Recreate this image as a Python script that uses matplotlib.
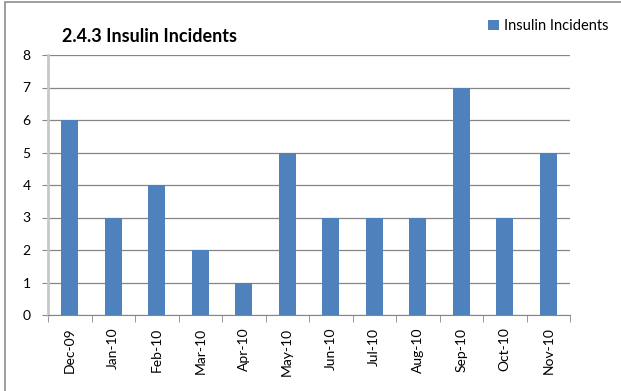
"""
Insulin incidents bar chart.
"""

import numpy as np
import matplotlib.pyplot as plt
from matplotlib.patches import Rectangle

months = ["Dec-09", "Jan-10", "Feb-10", "Mar-10", "Apr-10", "May-10",
          "Jun-10", "Jul-10", "Aug-10", "Sep-10", "Oct-10", "Nov-10"]
incidents = [6, 3, 4, 2, 1, 5, 3, 3, 3, 7, 3, 5]
y_ticks = [0, 1, 2, 3, 4, 5, 6, 7, 8]

plt.rcParams["font.family"] = ["Lato", "DejaVu Sans"]

fig = plt.figure(figsize=(6.21, 3.91), dpi=100)

# outer chart frame
fig.patches.append(Rectangle(
    (4.5 / 621, -0.05), 1.2, 1.0 - 2 / 391 + 0.05,
    transform=fig.transFigure, fill=False,
    edgecolor="#8c8c8c", linewidth=1.2
))

ax = fig.add_axes([48 / 621, 76 / 391, 522 / 621, 260 / 391])

x = np.arange(len(months))
ax.bar(x, incidents, width=0.4, color="#4F81BD", zorder=3,
       label="Insulin Incidents")

ax.set_xlim(-0.5, len(months) - 0.5)
ax.set_ylim(0, 8)
ax.set_yticks(y_ticks)
ax.set_yticklabels([str(v) for v in y_ticks], fontsize=10)
ax.yaxis.grid(True, color="#868686", linewidth=0.9, zorder=0)

ax.set_xticks(x)
ax.set_xticklabels(months, rotation=90, fontsize=10)
ax.tick_params(axis="x", length=0, pad=9)
ax.set_xticks(np.arange(len(months) + 1) - 0.5, minor=True)
ax.tick_params(axis="x", which="minor", length=5, color="#868686")
ax.tick_params(axis="y", length=4.5, color="#868686", pad=8)

for side in ["top", "right"]:
    ax.spines[side].set_visible(False)
ax.spines["left"].set_color("#c8c8c8")
ax.spines["left"].set_linewidth(2)
ax.spines["bottom"].set_color("#868686")

fig.text(62 / 621, 1 - 36 / 391, "2.4.3 Insulin Incidents",
         fontsize=13, fontweight="bold", va="center", ha="left")

ax.legend(loc="center left", bbox_to_anchor=(481 / 621, 1 - 26 / 391),
          bbox_transform=fig.transFigure, frameon=False, fontsize=10.5,
          handlelength=0.75, handleheight=0.75, handletextpad=0.3,
          borderpad=0)

fig.savefig("out.png", dpi=100)
